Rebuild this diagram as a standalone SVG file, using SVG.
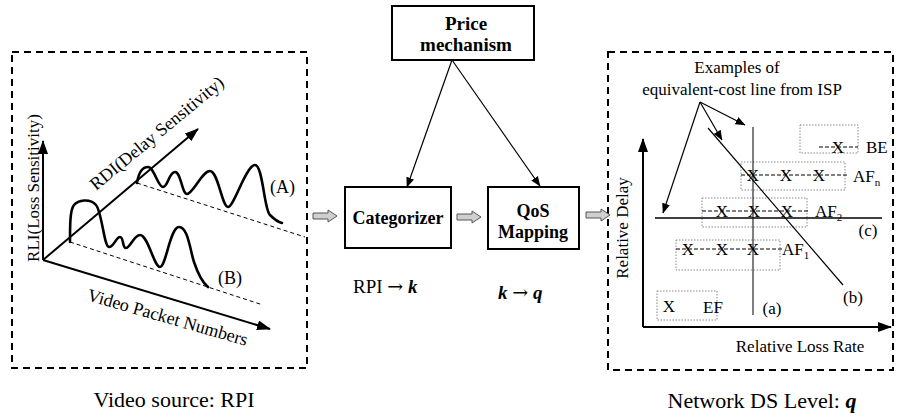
<svg xmlns="http://www.w3.org/2000/svg" width="898" height="420" viewBox="0 0 898 420">
  <defs>
    <style>
      text { font-family: "Liberation Serif", "Times New Roman", serif; fill: #000; }
      .bold { font-weight: bold; }
      .sym { font-family: "DejaVu Serif", serif; }
      .panel { fill: none; stroke: #000; stroke-width: 2; stroke-dasharray: 7 5; }
      .box { fill: #fff; stroke: #000; stroke-width: 2; }
      .axis { fill: none; stroke: #000; stroke-width: 2; }
      .thin { fill: none; stroke: #000; stroke-width: 1.2; }
      .curve { fill: none; stroke: #000; stroke-width: 2.6; stroke-linejoin: round; stroke-linecap: round; }
      .guide { fill: none; stroke: #000; stroke-width: 1; stroke-dasharray: 4 3; }
      .band { fill: none; stroke: #888; stroke-width: 1; stroke-dasharray: 1.5 1.5; }
      .row { fill: none; stroke: #000; stroke-width: 1; stroke-dasharray: 4 2; }
      .flow { fill: #cfcfcf; stroke: #555; stroke-width: 1; }
    </style>
    <marker id="bigHead" viewBox="0 0 14 10" refX="13" refY="5" markerWidth="14" markerHeight="10" markerUnits="userSpaceOnUse" orient="auto">
      <path d="M0,0 L14,5 L0,10 z" fill="#000"/>
    </marker>
    <marker id="smallHead" viewBox="0 0 10 8" refX="9.5" refY="4" markerWidth="10" markerHeight="8" markerUnits="userSpaceOnUse" orient="auto">
      <path d="M0,0 L10,4 L0,8 z" fill="#000"/>
    </marker>
    <path id="blockArrow" d="M0,-3 L15,-3 L15,-6 L24,0 L15,6 L15,3 L0,3 z"/>
  </defs>

  <!-- Video source panel -->
  <g id="video-source">
    <rect class="panel" x="12" y="52" width="295" height="316"/>
    <line class="axis" x1="43" y1="260" x2="43" y2="141" marker-end="url(#bigHead)"/>
    <line class="axis" x1="43" y1="260" x2="198" y2="129" marker-end="url(#bigHead)"/>
    <line class="axis" x1="43" y1="260" x2="270" y2="329" marker-end="url(#bigHead)"/>
    <text font-size="17" text-anchor="middle" transform="translate(39,188) rotate(-90)">RLI(Loss Sensitivity)</text>
    <text font-size="18" transform="translate(96,191) rotate(-39.5)">RDI(Delay Sensitivity)</text>
    <text font-size="18" text-anchor="middle" transform="translate(166,323) rotate(16)">Video Packet Numbers</text>
    <!-- sequence (A) -->
    <line class="guide" x1="137" y1="183" x2="305" y2="237"/>
    <path class="curve" d="M137,183 C139,170 144,167 148,167 C154,167 158,187 163,187 C168,187 169,172 175,172 C181,172 182,194 187,194 C193,194 202,171 210,171 C218,171 222,207 228,207 C234,207 246,165 255,165 C263,165 264,210 270,215 C275,220 278,222 282,223"/>
    <text font-size="18" x="270" y="193">(A)</text>
    <!-- sequence (B) -->
    <line class="guide" x1="70" y1="242" x2="263" y2="305"/>
    <path class="curve" d="M70,242 C70,225 70,210 74,205 C78,200 90,198 96,205 C102,212 104,247 109,247 C114,247 116,237 120,237 C124,237 122,248 126,248 C130,248 134,235 140,235 C148,235 154,267 160,267 C166,267 170,227 179,227 C188,227 190,250 194,262 C198,274 203,283 208,287"/>
    <text font-size="18" x="218" y="284">(B)</text>
  </g>

  <!-- Price mechanism -->
  <g id="price-mechanism">
    <rect class="box" x="392" y="6" width="142" height="54" stroke-width="3"/>
    <text class="bold" font-size="19" x="466" y="30" text-anchor="middle">Price</text>
    <text class="bold" font-size="19" x="466" y="51" text-anchor="middle">mechanism</text>
  </g>

  <!-- Categorizer -->
  <g id="categorizer">
    <rect class="box" x="345" y="187" width="106" height="61"/>
    <text class="bold" font-size="18" x="398" y="224" text-anchor="middle">Categorizer</text>
    <text font-size="19" x="353" y="293">RPI <tspan class="sym">→</tspan> <tspan font-weight="bold" font-style="italic">k</tspan></text>
  </g>

  <!-- QoS Mapping -->
  <g id="qos-mapping">
    <rect class="box" x="488" y="187" width="91" height="62"/>
    <text class="bold" font-size="18" x="533" y="217" text-anchor="middle">QoS</text>
    <text class="bold" font-size="18" x="533" y="238" text-anchor="middle">Mapping</text>
    <text font-size="19" x="498" y="299"><tspan font-weight="bold" font-style="italic">k</tspan> <tspan class="sym">→</tspan> <tspan font-weight="bold" font-style="italic">q</tspan></text>
  </g>

  <!-- Network DS level panel -->
  <g id="network-ds-level">
    <rect class="panel" x="608" y="52" width="285" height="318"/>
    <line class="axis" x1="643" y1="327" x2="643" y2="139" marker-end="url(#bigHead)"/>
    <line class="axis" x1="643" y1="327" x2="891" y2="327" marker-end="url(#bigHead)"/>
    <text font-size="17" text-anchor="middle" transform="translate(628,228) rotate(-90)">Relative Delay</text>
    <text font-size="17" x="800" y="352" text-anchor="middle">Relative Loss Rate</text>

    <text font-size="17" x="737" y="73" text-anchor="middle">Examples of</text>
    <text font-size="17" x="742" y="95" text-anchor="middle">equivalent-cost line from ISP</text>
    <line class="thin" x1="700" y1="102" x2="663" y2="213" marker-end="url(#smallHead)"/>
    <line class="thin" x1="700" y1="102" x2="722" y2="140" marker-end="url(#smallHead)"/>
    <line class="thin" x1="700" y1="102" x2="745" y2="125" marker-end="url(#smallHead)"/>

    <!-- service classes -->
    <rect class="band" x="800" y="125" width="58" height="28"/>
    <line class="row" x1="819" y1="147" x2="858" y2="147"/>
    <text font-size="17" x="838" y="153" text-anchor="middle">X</text>
    <text font-size="17" x="866" y="153">BE</text>

    <rect class="band" x="741" y="162" width="104" height="28"/>
    <line class="row" x1="741" y1="175" x2="847" y2="175"/>
    <text font-size="17" x="753" y="181" text-anchor="middle">X</text>
    <text font-size="17" x="786" y="181" text-anchor="middle">X</text>
    <text font-size="17" x="819" y="181" text-anchor="middle">X</text>
    <text font-size="17" x="853" y="182">AF<tspan font-size="11" dy="4">n</tspan></text>

    <rect class="band" x="702" y="198" width="105" height="29"/>
    <line class="row" x1="702" y1="211" x2="809" y2="211"/>
    <text font-size="17" x="722" y="217" text-anchor="middle">X</text>
    <text font-size="17" x="754" y="217" text-anchor="middle">X</text>
    <text font-size="17" x="787" y="217" text-anchor="middle">X</text>
    <text font-size="17" x="815" y="217">AF<tspan font-size="11" dy="4">2</tspan></text>

    <rect class="band" x="676" y="240" width="104" height="30"/>
    <line class="row" x1="676" y1="249" x2="782" y2="249"/>
    <text font-size="17" x="688" y="255" text-anchor="middle">X</text>
    <text font-size="17" x="722" y="255" text-anchor="middle">X</text>
    <text font-size="17" x="753" y="255" text-anchor="middle">X</text>
    <text font-size="17" x="782" y="255">AF<tspan font-size="11" dy="4">1</tspan></text>

    <rect class="band" x="657" y="291" width="60" height="29"/>
    <text font-size="17" x="669" y="312" text-anchor="middle">X</text>
    <text font-size="17" x="703" y="313">EF</text>

    <!-- equivalent-cost lines -->
    <line x1="655" y1="218" x2="882" y2="218" stroke="#000" stroke-width="1.5"/>
    <line x1="753" y1="127" x2="753" y2="315" stroke="#000" stroke-width="1"/>
    <line x1="708" y1="128" x2="843" y2="285" stroke="#000" stroke-width="1.2"/>
    <text font-size="17" x="868" y="236" text-anchor="middle">(c)</text>
    <text font-size="17" x="772" y="314" text-anchor="middle">(a)</text>
    <text font-size="17" x="853" y="303" text-anchor="middle">(b)</text>
  </g>

  <!-- captions -->
  <g id="captions">
    <text font-size="22" x="174" y="407" text-anchor="middle">Video source: RPI</text>
    <text font-size="22" x="762" y="408" text-anchor="middle">Network DS Level: <tspan font-weight="bold" font-style="italic">q</tspan></text>
  </g>

  <!-- connectors -->
  <g id="connectors">
    <line class="thin" x1="452" y1="60" x2="407" y2="187" marker-end="url(#smallHead)"/>
    <line class="thin" x1="452" y1="60" x2="540" y2="186" marker-end="url(#smallHead)"/>
    <use href="#blockArrow" class="flow" transform="translate(313,216)"/>
    <use href="#blockArrow" class="flow" transform="translate(457,217)"/>
    <use href="#blockArrow" class="flow" transform="translate(586,215)"/>
  </g>
</svg>
